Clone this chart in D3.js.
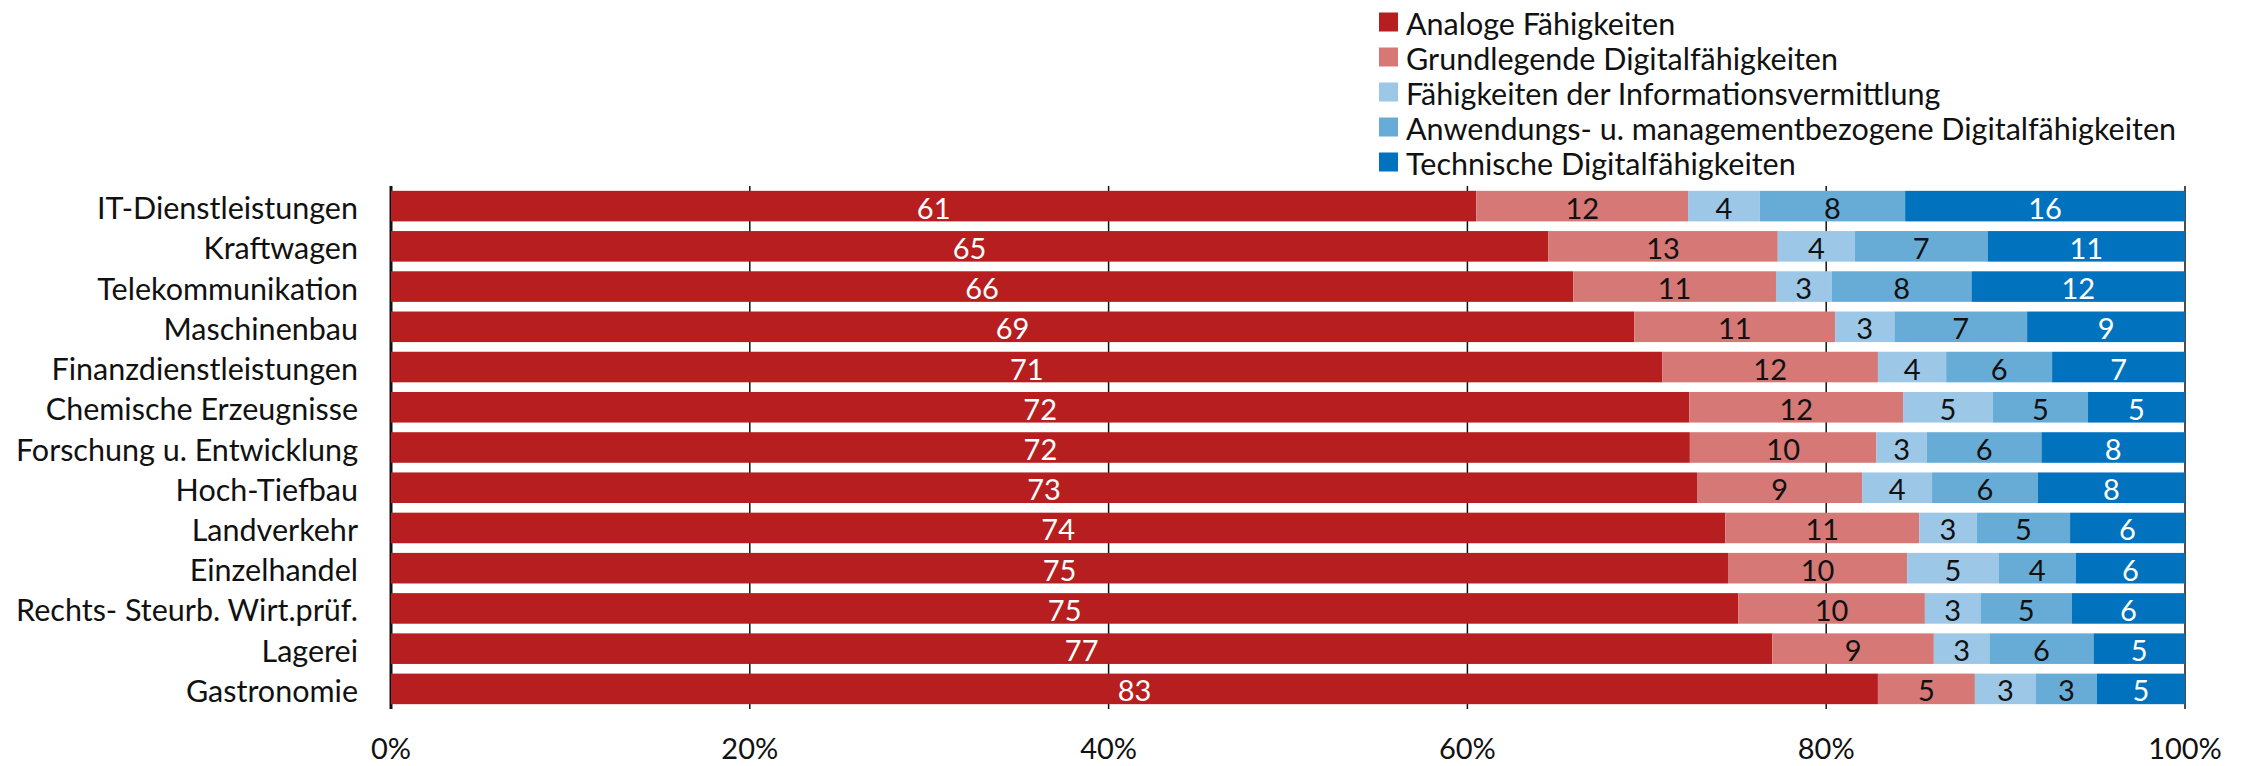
<!DOCTYPE html>
<html>
<head>
<meta charset="utf-8">
<script src="https://cdn.jsdelivr.net/npm/d3@7"></script>
<style>
  body { margin: 0; background: #fff; }
  text { font-family: Lato, "Noto Sans", sans-serif; }
</style>
</head>
<body>
<svg id="chart" width="2252" height="766"></svg>
<script>
let categories = ["IT-Dienstleistungen", "Kraftwagen", "Telekommunikation", "Maschinenbau",
  "Finanzdienstleistungen", "Chemische Erzeugnisse", "Forschung u. Entwicklung", "Hoch-Tiefbau",
  "Landverkehr", "Einzelhandel", "Rechts- Steurb. Wirt.prüf.", "Lagerei", "Gastronomie"];

let seriesNames = ["Analoge Fähigkeiten", "Grundlegende Digitalfähigkeiten",
  "Fähigkeiten der Informationsvermittlung", "Anwendungs- u. managementbezogene Digitalfähigkeiten",
  "Technische Digitalfähigkeiten"];

let analog      = [60.5, 64.5, 65.9, 69.3, 70.8, 72.3, 72.4, 72.8, 74.3, 74.6, 75.1, 77.0, 82.8];
let grundlegend = [11.8, 12.8, 11.3, 11.2, 12.0, 11.9, 10.4, 9.2, 10.8, 10.0, 10.4, 9.0, 5.4];
let information = [4.0, 4.3, 3.1, 3.3, 3.8, 5.0, 2.8, 3.9, 3.2, 5.1, 3.1, 3.1, 3.4];
let anwendung   = [8.1, 7.4, 7.8, 7.4, 5.9, 5.3, 6.4, 5.9, 5.2, 4.3, 5.1, 5.8, 3.4];
let technisch   = [15.6, 11.0, 11.9, 8.8, 7.4, 5.4, 8.0, 8.2, 6.4, 6.1, 6.3, 5.1, 4.9];

let xTicks = [0, 20, 40, 60, 80, 100];

let colors = ["#b71e1f", "#d57876", "#9dc7e6", "#67acd6", "#0173be"];
let labelColors = ["#ffffff", "#111111", "#111111", "#111111", "#ffffff"];

let svg = d3.select("#chart");

let x = d3.scaleLinear().domain([0, 100]).range([391, 2185]);
let y = d3.scaleBand().domain(categories).range([186, 709]).paddingInner(0.24).paddingOuter(0.12);

let rows = categories.map((c, i) => ({
  cat: c, v: [analog[i], grundlegend[i], information[i], anwendung[i], technisch[i]]
}));

// gridlines
svg.append("g")
  .selectAll("line")
  .data(xTicks)
  .enter()
  .append("line")
  .attr("x1", d => x(d)).attr("x2", d => x(d))
  .attr("y1", 186).attr("y2", 709)
  .attr("stroke", "#111")
  .attr("stroke-width", d => d == 0 ? 3 : 1.5);

// bars
rows.forEach(r => {
  let total = d3.sum(r.v);
  let acc = 0;
  let segs = r.v.map((v, k) => {
    let s = { k: k, v: v, x0: acc / total * 100, x1: (acc + v) / total * 100 };
    acc += v;
    return s;
  });
  let g = svg.append("g");
  g.selectAll("rect")
    .data(segs)
    .enter()
    .append("rect")
    .attr("x", d => x(d.x0))
    .attr("width", d => x(d.x1) - x(d.x0))
    .attr("y", y(r.cat))
    .attr("height", y.bandwidth())
    .attr("fill", d => colors[d.k]);
  g.selectAll("text")
    .data(segs)
    .enter()
    .append("text")
    .attr("x", d => (x(d.x0) + x(d.x1)) / 2)
    .attr("y", y(r.cat) + y.bandwidth() / 2 + 1)
    .attr("text-anchor", "middle")
    .attr("dominant-baseline", "central")
    .attr("fill", d => labelColors[d.k])
    .style("font-size", "29px")
    .text(d => Math.round(d.v));
});

// category labels
svg.append("g")
  .selectAll("text")
  .data(categories)
  .enter()
  .append("text")
  .attr("x", 358)
  .attr("y", d => y(d) + y.bandwidth() / 2 + 1)
  .attr("text-anchor", "end")
  .attr("dominant-baseline", "central")
  .attr("fill", "#111")
  .style("font-size", "30.5px")
  .text(d => d);

// x tick labels
svg.append("g")
  .selectAll("text")
  .data(xTicks)
  .enter()
  .append("text")
  .attr("x", d => x(d))
  .attr("y", 759)
  .attr("text-anchor", "middle")
  .attr("fill", "#111")
  .style("font-size", "29px")
  .text(d => d + "%");

// legend
let legend = svg.append("g")
  .selectAll("g")
  .data(seriesNames)
  .enter()
  .append("g")
  .attr("transform", (d, i) => "translate(1379," + (22 + i * 35) + ")");
legend.append("rect")
  .attr("x", 0).attr("y", -9.5)
  .attr("width", 19).attr("height", 19)
  .attr("fill", (d, i) => colors[i]);
legend.append("text")
  .attr("x", 27)
  .attr("y", 1)
  .attr("dominant-baseline", "central")
  .attr("fill", "#111")
  .style("font-size", "30.5px")
  .text(d => d);
</script>
</body>
</html>
